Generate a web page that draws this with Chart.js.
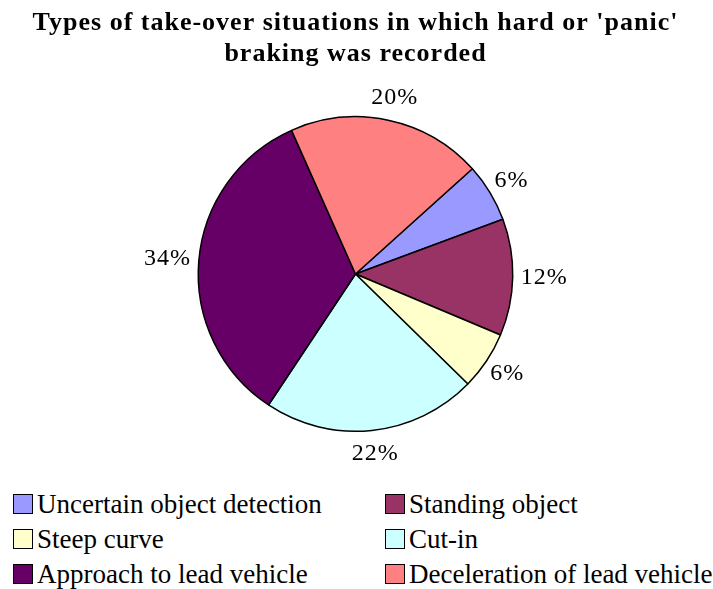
<!DOCTYPE html>
<html>
<head>
<meta charset="utf-8">
<script src="https://cdn.jsdelivr.net/npm/chart.js@4/dist/chart.umd.min.js"></script>
<style>
  html, body { margin: 0; padding: 0; background: #fff; }
  #wrap { position: relative; width: 713px; height: 589px; overflow: hidden; }
  #c { position: absolute; left: 0; top: 0; }
  #legend { position: absolute; left: 0; top: 488px; width: 713px;
    font-family: "Liberation Serif", "Times New Roman", serif; font-size: 27px; color: #000; }
  .item { position: absolute; display: flex; align-items: center; white-space: nowrap; height: 32px; }
  .box { width: 18px; height: 18px; border: 1px solid #000; margin-right: 4px; box-sizing: content-box; }
</style>
</head>
<body>
<div id="wrap">
  <canvas id="c" width="713" height="480"></canvas>
  <div id="legend"></div>
</div>
<script>
const titleLines = ["Types of take-over situations in which hard or 'panic'", "braking was recorded"];
const categories = ["Uncertain object detection", "Standing object", "Steep curve", "Cut-in", "Approach to lead vehicle", "Deceleration of lead vehicle"];
const shares = [6, 12, 6, 22, 34, 20];
const colors = ["#9999FF", "#993366", "#FFFFCC", "#CCFFFF", "#660066", "#FF8080"];

const spacing = {
  id: 'spacing',
  beforeDraw(chart) { chart.ctx.letterSpacing = '1px'; },
  beforeDatasetsDraw(chart) { chart.ctx.letterSpacing = '0px'; }
};

const pctLabels = {
  id: 'pctLabels',
  afterDatasetsDraw(chart) {
    const ctx = chart.ctx;
    const meta = chart.getDatasetMeta(0);
    const data = chart.data.datasets[0].data;
    const total = data.reduce((a, b) => a + b, 0);
    ctx.save();
    ctx.font = '24px "Liberation Serif"';
    ctx.letterSpacing = '1px';
    ctx.fillStyle = '#000';
    ctx.textAlign = 'center';
    ctx.textBaseline = 'middle';
    meta.data.forEach((arc, i) => {
      const p = arc.getProps(['x', 'y', 'startAngle', 'endAngle', 'outerRadius'], true);
      const mid = (p.startAngle + p.endAngle) / 2;
      const txt = Math.round(data[i] / total * 100) + '%';
      const w = ctx.measureText(txt).width;
      const h = 30;
      const dx = Math.cos(mid), dy = Math.sin(mid);
      const r = p.outerRadius + 8;
      ctx.fillText(txt, p.x + dx * (r + w / 2), p.y + dy * (r + h / 2));
    });
    ctx.restore();
  }
};

function build() {
  const chart = new Chart(document.getElementById('c'), {
    type: 'pie',
    data: {
      labels: categories,
      datasets: [{
        data: shares,
        backgroundColor: colors,
        borderColor: '#000',
        borderWidth: 1.5
      }]
    },
    options: {
      responsive: false,
      animation: false,
      rotation: 48,
      layout: { padding: { top: 0, bottom: 48, left: 0, right: 2 } },
      plugins: {
        legend: { display: false },
        tooltip: { enabled: false },
        title: {
          display: true,
          text: titleLines,
          color: '#000',
          font: { family: '"Liberation Serif"', size: 26, weight: 'bold', lineHeight: '31px' },
          padding: { top: 8, bottom: 46 }
        }
      }
    },
    plugins: [spacing, pctLabels]
  });

  const legend = document.getElementById('legend');
  const colX = [13, 385];
  const rowY = [0, 35, 70];
  categories.forEach((name, i) => {
    const it = document.createElement('div');
    it.className = 'item';
    it.style.left = colX[i % 2] + 'px';
    it.style.top = rowY[Math.floor(i / 2)] + 'px';
    const b = document.createElement('span');
    b.className = 'box';
    b.style.background = chart.data.datasets[0].backgroundColor[i];
    const t = document.createElement('span');
    t.textContent = name;
    it.appendChild(b);
    it.appendChild(t);
    legend.appendChild(it);
  });
}

Promise.all([
  document.fonts.load('24px "Liberation Serif"'),
  document.fonts.load('bold 26px "Liberation Serif"')
]).then(build, build);
</script>
</body>
</html>
